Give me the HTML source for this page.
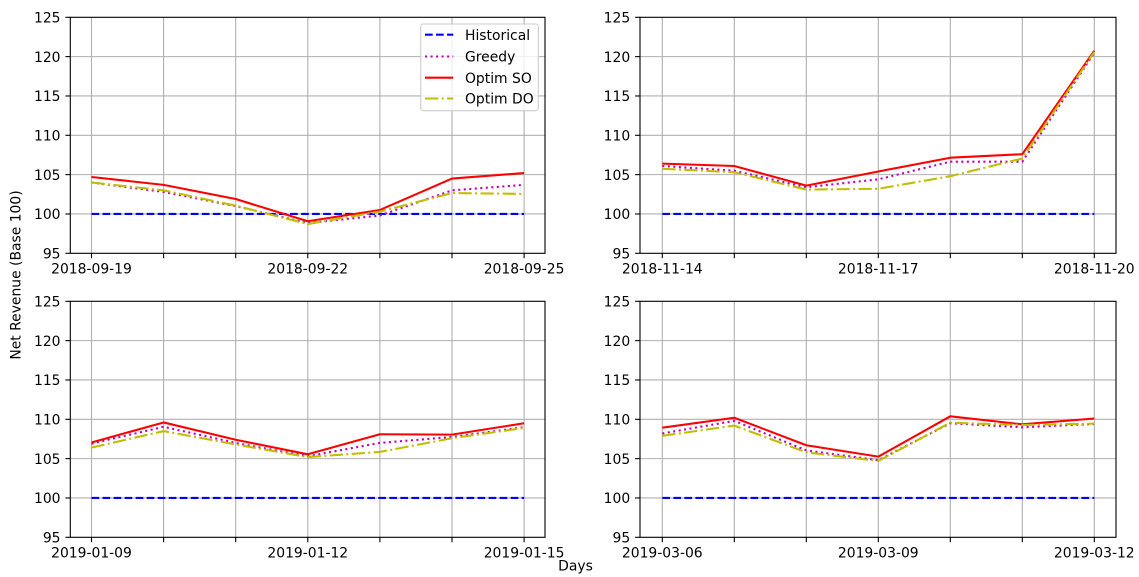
<!DOCTYPE html>
<html>
<head>
<meta charset="utf-8">
<style>
  html, body { margin: 0; padding: 0; background: #ffffff; }
  svg { display: block; }
  text { font-family: "DejaVu Sans", "Liberation Sans", sans-serif; font-size: 13.9px; fill: #000; }
</style>
</head>
<body>
<svg width="1139" height="577" viewBox="0 0 1139 577" xmlns="http://www.w3.org/2000/svg">
  <rect x="0" y="0" width="1139" height="577" fill="#ffffff"/>

  <!-- ================= TOP LEFT ================= -->
  <g>
    <!-- grid -->
    <g stroke="#b0b0b0" stroke-width="1.1" fill="none">
      <line x1="91.5" y1="17.3" x2="91.5" y2="253.3"/>
      <line x1="163.6" y1="17.3" x2="163.6" y2="253.3"/>
      <line x1="235.7" y1="17.3" x2="235.7" y2="253.3"/>
      <line x1="307.8" y1="17.3" x2="307.8" y2="253.3"/>
      <line x1="379.9" y1="17.3" x2="379.9" y2="253.3"/>
      <line x1="452.0" y1="17.3" x2="452.0" y2="253.3"/>
      <line x1="524.1" y1="17.3" x2="524.1" y2="253.3"/>
      <line x1="70.3" y1="56.63" x2="545" y2="56.63"/>
      <line x1="70.3" y1="95.97" x2="545" y2="95.97"/>
      <line x1="70.3" y1="135.3" x2="545" y2="135.3"/>
      <line x1="70.3" y1="174.63" x2="545" y2="174.63"/>
      <line x1="70.3" y1="213.97" x2="545" y2="213.97"/>
    </g>
    <!-- series -->
    <polyline fill="none" stroke="#0000ff" stroke-width="2.08" stroke-dasharray="7.7 3.33" points="91.5,213.97 524.1,213.97"/>
    <polyline fill="none" stroke="#bf00bf" stroke-width="2.08" stroke-dasharray="2.08 3.44" points="91.5,182.5 163.6,191.94 235.7,206.1 307.8,223.01 379.9,215.54 452.0,190.36 524.1,184.86"/>
    <polyline fill="none" stroke="#ff0000" stroke-width="2.08" stroke-linejoin="round" points="91.5,176.99 163.6,184.86 235.7,199.02 307.8,221.28 379.9,210.03 452.0,178.56 524.1,173.06"/>
    <polyline fill="none" stroke="#bfbf00" stroke-width="2.08" stroke-dasharray="13.3 3.33 2.08 3.33" points="91.5,182.5 163.6,190.36 235.7,205.7 307.8,224.03 379.9,211.6 452.0,193.04 524.1,193.9"/>
    <!-- spines -->
    <rect x="70.3" y="17.3" width="474.7" height="236" fill="none" stroke="#000" stroke-width="1.1"/>
    <!-- ticks -->
    <g stroke="#000" stroke-width="1.1">
      <line x1="91.5" y1="253.3" x2="91.5" y2="258.2"/>
      <line x1="163.6" y1="253.3" x2="163.6" y2="258.2"/>
      <line x1="235.7" y1="253.3" x2="235.7" y2="258.2"/>
      <line x1="307.8" y1="253.3" x2="307.8" y2="258.2"/>
      <line x1="379.9" y1="253.3" x2="379.9" y2="258.2"/>
      <line x1="452.0" y1="253.3" x2="452.0" y2="258.2"/>
      <line x1="524.1" y1="253.3" x2="524.1" y2="258.2"/>
      <line x1="65.4" y1="17.3" x2="70.3" y2="17.3"/>
      <line x1="65.4" y1="56.63" x2="70.3" y2="56.63"/>
      <line x1="65.4" y1="95.97" x2="70.3" y2="95.97"/>
      <line x1="65.4" y1="135.3" x2="70.3" y2="135.3"/>
      <line x1="65.4" y1="174.63" x2="70.3" y2="174.63"/>
      <line x1="65.4" y1="213.97" x2="70.3" y2="213.97"/>
      <line x1="65.4" y1="253.3" x2="70.3" y2="253.3"/>
    </g>
    <g text-anchor="end">
      <text x="60.5" y="22.5">125</text>
      <text x="60.5" y="61.8">120</text>
      <text x="60.5" y="101.2">115</text>
      <text x="60.5" y="140.5">110</text>
      <text x="60.5" y="179.8">105</text>
      <text x="60.5" y="219.2">100</text>
      <text x="60.5" y="258.5">95</text>
    </g>
    <g text-anchor="middle">
      <text x="91.5" y="273.5">2018-09-19</text>
      <text x="307.8" y="273.5">2018-09-22</text>
      <text x="524.1" y="273.5">2018-09-25</text>
    </g>
    <!-- legend -->
    <rect x="420.7" y="24" width="117.6" height="86.7" rx="2.5" ry="2.5" fill="#ffffff" fill-opacity="0.8" stroke="#cccccc" stroke-width="1.1"/>
    <line x1="425" y1="34.7" x2="453.3" y2="34.7" stroke="#0000ff" stroke-width="2.08" stroke-dasharray="7.7 3.33"/>
    <line x1="425" y1="56.5" x2="453.3" y2="56.5" stroke="#bf00bf" stroke-width="2.08" stroke-dasharray="2.08 3.44"/>
    <line x1="425" y1="77.7" x2="453.3" y2="77.7" stroke="#ff0000" stroke-width="2.08"/>
    <line x1="425" y1="98.5" x2="453.3" y2="98.5" stroke="#bfbf00" stroke-width="2.08" stroke-dasharray="13.3 3.33 2.08 3.33"/>
    <text x="465" y="39.8">Historical</text>
    <text x="465" y="61.5">Greedy</text>
    <text x="465" y="82.8">Optim SO</text>
    <text x="465" y="103.6">Optim DO</text>
  </g>

  <!-- ================= TOP RIGHT ================= -->
  <g>
    <g stroke="#b0b0b0" stroke-width="1.1" fill="none">
      <line x1="662.3" y1="17.3" x2="662.3" y2="253.3"/>
      <line x1="734.3" y1="17.3" x2="734.3" y2="253.3"/>
      <line x1="806.3" y1="17.3" x2="806.3" y2="253.3"/>
      <line x1="878.3" y1="17.3" x2="878.3" y2="253.3"/>
      <line x1="950.3" y1="17.3" x2="950.3" y2="253.3"/>
      <line x1="1022.3" y1="17.3" x2="1022.3" y2="253.3"/>
      <line x1="1094.3" y1="17.3" x2="1094.3" y2="253.3"/>
      <line x1="640" y1="56.63" x2="1116" y2="56.63"/>
      <line x1="640" y1="95.97" x2="1116" y2="95.97"/>
      <line x1="640" y1="135.3" x2="1116" y2="135.3"/>
      <line x1="640" y1="174.63" x2="1116" y2="174.63"/>
      <line x1="640" y1="213.97" x2="1116" y2="213.97"/>
    </g>
    <polyline fill="none" stroke="#0000ff" stroke-width="2.08" stroke-dasharray="7.7 3.33" points="662.3,213.97 1094.3,213.97"/>
    <polyline fill="none" stroke="#bf00bf" stroke-width="2.08" stroke-dasharray="2.08 3.44" points="662.3,165.98 734.3,170.7 806.3,187.22 878.3,179.35 950.3,161.65 1022.3,161.65 1094.3,52.69"/>
    <polyline fill="none" stroke="#ff0000" stroke-width="2.08" stroke-linejoin="round" points="662.3,163.62 734.3,165.98 806.3,185.64 878.3,171.48 950.3,157.72 1022.3,154.18 1094.3,50.72"/>
    <polyline fill="none" stroke="#bfbf00" stroke-width="2.08" stroke-dasharray="13.3 3.33 2.08 3.33" points="662.3,168.73 734.3,172.27 806.3,189.58 878.3,188.79 950.3,176.2 1022.3,158.5 1094.3,51.9"/>
    <rect x="640" y="17.3" width="476" height="236" fill="none" stroke="#000" stroke-width="1.1"/>
    <g stroke="#000" stroke-width="1.1">
      <line x1="662.3" y1="253.3" x2="662.3" y2="258.2"/>
      <line x1="734.3" y1="253.3" x2="734.3" y2="258.2"/>
      <line x1="806.3" y1="253.3" x2="806.3" y2="258.2"/>
      <line x1="878.3" y1="253.3" x2="878.3" y2="258.2"/>
      <line x1="950.3" y1="253.3" x2="950.3" y2="258.2"/>
      <line x1="1022.3" y1="253.3" x2="1022.3" y2="258.2"/>
      <line x1="1094.3" y1="253.3" x2="1094.3" y2="258.2"/>
      <line x1="635.1" y1="17.3" x2="640" y2="17.3"/>
      <line x1="635.1" y1="56.63" x2="640" y2="56.63"/>
      <line x1="635.1" y1="95.97" x2="640" y2="95.97"/>
      <line x1="635.1" y1="135.3" x2="640" y2="135.3"/>
      <line x1="635.1" y1="174.63" x2="640" y2="174.63"/>
      <line x1="635.1" y1="213.97" x2="640" y2="213.97"/>
      <line x1="635.1" y1="253.3" x2="640" y2="253.3"/>
    </g>
    <g text-anchor="end">
      <text x="630.2" y="22.5">125</text>
      <text x="630.2" y="61.8">120</text>
      <text x="630.2" y="101.2">115</text>
      <text x="630.2" y="140.5">110</text>
      <text x="630.2" y="179.8">105</text>
      <text x="630.2" y="219.2">100</text>
      <text x="630.2" y="258.5">95</text>
    </g>
    <g text-anchor="middle">
      <text x="662.3" y="273.5">2018-11-14</text>
      <text x="878.3" y="273.5">2018-11-17</text>
      <text x="1094.3" y="273.5">2018-11-20</text>
    </g>
  </g>

  <!-- ================= BOTTOM LEFT ================= -->
  <g>
    <g stroke="#b0b0b0" stroke-width="1.1" fill="none">
      <line x1="91.5" y1="301.3" x2="91.5" y2="537.3"/>
      <line x1="163.6" y1="301.3" x2="163.6" y2="537.3"/>
      <line x1="235.7" y1="301.3" x2="235.7" y2="537.3"/>
      <line x1="307.8" y1="301.3" x2="307.8" y2="537.3"/>
      <line x1="379.9" y1="301.3" x2="379.9" y2="537.3"/>
      <line x1="452.0" y1="301.3" x2="452.0" y2="537.3"/>
      <line x1="524.1" y1="301.3" x2="524.1" y2="537.3"/>
      <line x1="70.3" y1="340.63" x2="545" y2="340.63"/>
      <line x1="70.3" y1="379.97" x2="545" y2="379.97"/>
      <line x1="70.3" y1="419.3" x2="545" y2="419.3"/>
      <line x1="70.3" y1="458.63" x2="545" y2="458.63"/>
      <line x1="70.3" y1="497.97" x2="545" y2="497.97"/>
    </g>
    <polyline fill="none" stroke="#0000ff" stroke-width="2.08" stroke-dasharray="7.7 3.33" points="91.5,497.97 524.1,497.97"/>
    <polyline fill="none" stroke="#bf00bf" stroke-width="2.08" stroke-dasharray="2.08 3.44" points="91.5,443.68 163.6,426.77 235.7,442.9 307.8,456.27 379.9,442.9 452.0,437.0 524.1,427.16"/>
    <polyline fill="none" stroke="#ff0000" stroke-width="2.08" stroke-linejoin="round" points="91.5,442.5 163.6,422.44 235.7,439.75 307.8,454.3 379.9,434.24 452.0,434.64 524.1,423.23"/>
    <polyline fill="none" stroke="#bfbf00" stroke-width="2.08" stroke-dasharray="13.3 3.33 2.08 3.33" points="91.5,447.62 163.6,431.1 235.7,444.47 307.8,457.06 379.9,451.94 452.0,438.18 524.1,427.95"/>
    <rect x="70.3" y="301.3" width="474.7" height="236" fill="none" stroke="#000" stroke-width="1.1"/>
    <g stroke="#000" stroke-width="1.1">
      <line x1="91.5" y1="537.3" x2="91.5" y2="542.2"/>
      <line x1="163.6" y1="537.3" x2="163.6" y2="542.2"/>
      <line x1="235.7" y1="537.3" x2="235.7" y2="542.2"/>
      <line x1="307.8" y1="537.3" x2="307.8" y2="542.2"/>
      <line x1="379.9" y1="537.3" x2="379.9" y2="542.2"/>
      <line x1="452.0" y1="537.3" x2="452.0" y2="542.2"/>
      <line x1="524.1" y1="537.3" x2="524.1" y2="542.2"/>
      <line x1="65.4" y1="301.3" x2="70.3" y2="301.3"/>
      <line x1="65.4" y1="340.63" x2="70.3" y2="340.63"/>
      <line x1="65.4" y1="379.97" x2="70.3" y2="379.97"/>
      <line x1="65.4" y1="419.3" x2="70.3" y2="419.3"/>
      <line x1="65.4" y1="458.63" x2="70.3" y2="458.63"/>
      <line x1="65.4" y1="497.97" x2="70.3" y2="497.97"/>
      <line x1="65.4" y1="537.3" x2="70.3" y2="537.3"/>
    </g>
    <g text-anchor="end">
      <text x="60.5" y="306.5">125</text>
      <text x="60.5" y="345.8">120</text>
      <text x="60.5" y="385.2">115</text>
      <text x="60.5" y="424.5">110</text>
      <text x="60.5" y="463.8">105</text>
      <text x="60.5" y="503.2">100</text>
      <text x="60.5" y="542.5">95</text>
    </g>
    <g text-anchor="middle">
      <text x="91.5" y="557.5">2019-01-09</text>
      <text x="307.8" y="557.5">2019-01-12</text>
      <text x="524.1" y="557.5">2019-01-15</text>
    </g>
  </g>

  <!-- ================= BOTTOM RIGHT ================= -->
  <g>
    <g stroke="#b0b0b0" stroke-width="1.1" fill="none">
      <line x1="662.3" y1="301.3" x2="662.3" y2="537.3"/>
      <line x1="734.3" y1="301.3" x2="734.3" y2="537.3"/>
      <line x1="806.3" y1="301.3" x2="806.3" y2="537.3"/>
      <line x1="878.3" y1="301.3" x2="878.3" y2="537.3"/>
      <line x1="950.3" y1="301.3" x2="950.3" y2="537.3"/>
      <line x1="1022.3" y1="301.3" x2="1022.3" y2="537.3"/>
      <line x1="1094.3" y1="301.3" x2="1094.3" y2="537.3"/>
      <line x1="640" y1="340.63" x2="1116" y2="340.63"/>
      <line x1="640" y1="379.97" x2="1116" y2="379.97"/>
      <line x1="640" y1="419.3" x2="1116" y2="419.3"/>
      <line x1="640" y1="458.63" x2="1116" y2="458.63"/>
      <line x1="640" y1="497.97" x2="1116" y2="497.97"/>
    </g>
    <polyline fill="none" stroke="#0000ff" stroke-width="2.08" stroke-dasharray="7.7 3.33" points="662.3,497.97 1094.3,497.97"/>
    <polyline fill="none" stroke="#bf00bf" stroke-width="2.08" stroke-dasharray="2.08 3.44" points="662.3,433.46 734.3,420.87 806.3,450.37 878.3,460.2 950.3,423.23 1022.3,427.32 1094.3,424.02"/>
    <polyline fill="none" stroke="#ff0000" stroke-width="2.08" stroke-linejoin="round" points="662.3,427.71 734.3,417.72 806.3,445.26 878.3,456.66 950.3,416.3 1022.3,424.33 1094.3,418.51"/>
    <polyline fill="none" stroke="#bfbf00" stroke-width="2.08" stroke-dasharray="13.3 3.33 2.08 3.33" points="662.3,435.82 734.3,425.59 806.3,452.34 878.3,460.99 950.3,422.68 1022.3,425.04 1094.3,423.62"/>
    <rect x="640" y="301.3" width="476" height="236" fill="none" stroke="#000" stroke-width="1.1"/>
    <g stroke="#000" stroke-width="1.1">
      <line x1="662.3" y1="537.3" x2="662.3" y2="542.2"/>
      <line x1="734.3" y1="537.3" x2="734.3" y2="542.2"/>
      <line x1="806.3" y1="537.3" x2="806.3" y2="542.2"/>
      <line x1="878.3" y1="537.3" x2="878.3" y2="542.2"/>
      <line x1="950.3" y1="537.3" x2="950.3" y2="542.2"/>
      <line x1="1022.3" y1="537.3" x2="1022.3" y2="542.2"/>
      <line x1="1094.3" y1="537.3" x2="1094.3" y2="542.2"/>
      <line x1="635.1" y1="301.3" x2="640" y2="301.3"/>
      <line x1="635.1" y1="340.63" x2="640" y2="340.63"/>
      <line x1="635.1" y1="379.97" x2="640" y2="379.97"/>
      <line x1="635.1" y1="419.3" x2="640" y2="419.3"/>
      <line x1="635.1" y1="458.63" x2="640" y2="458.63"/>
      <line x1="635.1" y1="497.97" x2="640" y2="497.97"/>
      <line x1="635.1" y1="537.3" x2="640" y2="537.3"/>
    </g>
    <g text-anchor="end">
      <text x="630.2" y="306.5">125</text>
      <text x="630.2" y="345.8">120</text>
      <text x="630.2" y="385.2">115</text>
      <text x="630.2" y="424.5">110</text>
      <text x="630.2" y="463.8">105</text>
      <text x="630.2" y="503.2">100</text>
      <text x="630.2" y="542.5">95</text>
    </g>
    <g text-anchor="middle">
      <text x="662.3" y="557.5">2019-03-06</text>
      <text x="878.3" y="557.5">2019-03-09</text>
      <text x="1094.3" y="557.5">2019-03-12</text>
    </g>
  </g>

  <!-- figure labels -->
  <text x="575.5" y="570.5" text-anchor="middle">Days</text>
  <text transform="translate(20.5,275) rotate(-90)" text-anchor="middle">Net Revenue (Base 100)</text>
</svg>
</body>
</html>
